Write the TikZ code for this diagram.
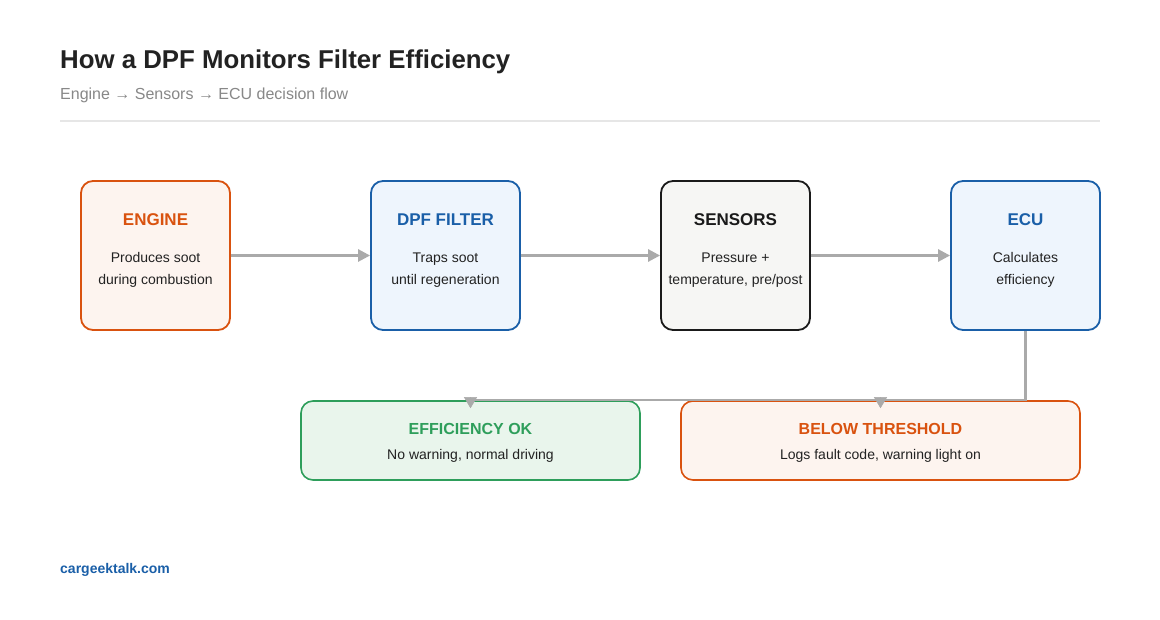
\documentclass[tikz,border=0pt]{standalone}
\usepackage{fontspec}
\setmainfont{Liberation Sans}
\usetikzlibrary{arrows.meta}
\definecolor{orangeS}{HTML}{D9520F}
\definecolor{orangeF}{HTML}{FDF4EF}
\definecolor{blueS}{HTML}{1A5FA8}
\definecolor{blueF}{HTML}{EEF5FD}
\definecolor{darkS}{HTML}{1A1A1A}
\definecolor{darkF}{HTML}{F6F6F4}
\definecolor{greenS}{HTML}{2E9E5B}
\definecolor{greenF}{HTML}{E9F5EC}
\definecolor{arrowC}{HTML}{AAAAAA}
\definecolor{textC}{HTML}{222222}
\definecolor{subC}{HTML}{888888}
\definecolor{ruleC}{HTML}{E6E6E6}
\tikzset{
  card/.style={rounded corners=12pt, line width=1.8pt, minimum width=149pt, minimum height=149pt, inner sep=0pt},
  wide/.style={rounded corners=12pt, line width=1.6pt, minimum height=79pt, inner sep=0pt},
  ttl/.style={font=\fontsize{17}{20}\selectfont\bfseries, anchor=base, inner sep=0pt},
  ttlb/.style={font=\fontsize{16}{19}\selectfont\bfseries, anchor=base, inner sep=0pt},
  body/.style={font=\fontsize{14}{17}\selectfont, text=textC, anchor=base, inner sep=0pt},
  flow/.style={draw=arrowC, line width=2.6pt, -{Triangle[length=12pt,width=12pt]}},
  branch/.style={draw=arrowC, line width=2.4pt},
  drop/.style={draw=arrowC, line width=0.5pt, -{Triangle[length=11pt,width=13pt]}},
}
\begin{document}
\begin{tikzpicture}[x=1pt,y=-1pt]
\useasboundingbox[fill=white] (0,0) rectangle (1160,620);
% header
\node[anchor=base west, font=\fontsize{25.8}{30}\selectfont\bfseries, text=textC, inner sep=0pt] (title) at (60,69) {How a DPF Monitors Filter Efficiency};
\node[anchor=base west, font=\fontsize{16}{19}\selectfont, text=subC, inner sep=0pt] (sub) at (60,100) {Engine → Sensors → ECU decision flow};
\draw[ruleC, line width=1.2pt] (60,121) coordinate (r1) -- (1100,121) coordinate (r2);
% cards
\node[card, draw=orangeS, fill=orangeF] (engine) at (155.5,255.5) {};
\node[card, draw=blueS, fill=blueF] (dpf) at (445.5,255.5) {};
\node[card, draw=darkS, fill=darkF] (sens) at (735.5,255.5) {};
\node[card, draw=blueS, fill=blueF] (ecu) at (1025.5,255.5) {};
\node[ttl, text=orangeS] (engineT) at (155.5,226) {ENGINE};
\node[body] (engineB1) at (155.5,263) {Produces soot};
\node[body] (engineB2) at (155.5,285) {during combustion};
\node[ttl, text=blueS] (dpfT) at (445.5,226) {DPF FILTER};
\node[body] (dpfB1) at (445.5,263) {Traps soot};
\node[body] (dpfB2) at (445.5,285) {until regeneration};
\node[ttl, text=darkS] (sensT) at (735.5,226) {SENSORS};
\node[body] (sensB1) at (735.5,263) {Pressure +};
\node[body] (sensB2) at (735.5,285) {temperature, pre/post};
\node[ttl, text=blueS] (ecuT) at (1025.5,226) {ECU};
\node[body] (ecuB1) at (1025.5,263) {Calculates};
\node[body] (ecuB2) at (1025.5,285) {efficiency};
% outcome boxes
\node[wide, draw=greenS, fill=greenF, minimum width=339pt] (ok) at (470.5,440.5) {};
\node[wide, draw=orangeS, fill=orangeF, minimum width=399pt] (bad) at (880.5,440.5) {};
\node[ttlb, text=greenS] (okT) at (470.5,434) {EFFICIENCY OK};
\node[body] (okB) at (470.5,459) {No warning, normal driving};
\node[ttlb, text=orangeS] (badT) at (880.5,434) {BELOW THRESHOLD};
\node[body] (badB) at (880.5,459) {Logs fault code, warning light on};
% flow arrows
\draw[flow] (engine.east) -- (dpf.west);
\draw[flow] (dpf.east) -- (sens.west);
\draw[flow] (sens.east) -- (ecu.west);
% branch
\coordinate (bj) at (1025.5,400);
\coordinate (okTop) at (470.5,397.5);
\coordinate (badTop) at (880.5,397.5);
\draw[branch] (ecu.south) -- (bj) -- (470.5,400);
\draw[drop] (okTop) -- ([yshift=-8pt]ok.north);
\draw[drop] (badTop) -- ([yshift=-8pt]bad.north);
% footer
\node[anchor=base west, font=\fontsize{14}{17}\selectfont\bfseries, text=blueS, inner sep=0pt] (foot) at (60,573) {cargeektalk.com};
\end{tikzpicture}
\end{document}
